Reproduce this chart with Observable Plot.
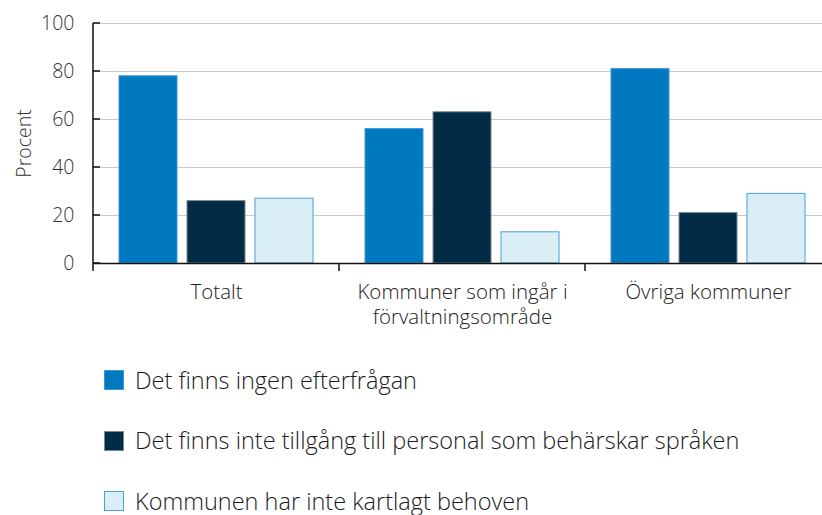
<!DOCTYPE html>
<html><head><meta charset="utf-8">
<script src="https://cdn.jsdelivr.net/npm/d3@7"></script>
<script src="https://cdn.jsdelivr.net/npm/@observablehq/plot@0.6"></script>
<style>
body{margin:0;background:#fff;font-family:"Open Sans",sans-serif;font-weight:300;}
#chart svg{overflow:visible}
.legend{margin:5px 0 0 104px;}
.legend .row{display:flex;align-items:center;height:60.5px;font-size:23.5px;color:#1a1a1a;font-weight:300;}
.legend .row span{line-height:1;}
.legend .sw{width:20px;height:20px;box-sizing:border-box;margin-right:11px;}
</style></head>
<body>
<div id="chart"></div>
<div class="legend" id="legend"></div>
<script>
const groups = ["Totalt", "Kommuner som ingår i förvaltningsområde", "Övriga kommuner"];
const groupLabels = ["Totalt", "Kommuner som ingår i\nförvaltningsområde", "Övriga kommuner"];
const series = ["Det finns ingen efterfrågan", "Det finns inte tillgång till personal som behärskar språken", "Kommunen har inte kartlagt behoven"];
const valuesIngen = [78, 56, 81];
const valuesTillgang = [26, 63, 21];
const valuesKartlagt = [27, 13, 29];
const fills = ["#0079c1", "#022c45", "#daeef6"];
const strokes = ["#3d97d3", "#7a8794", "#4a9fd6"];
const yTicks = [0, 20, 40, 60, 80, 100];

const seriesValues = [valuesIngen, valuesTillgang, valuesKartlagt];
const data = [];
series.forEach((s, si) => groups.forEach((g, gi) => data.push({group: g, series: s, value: seriesValues[si][gi]})));

const chart = Plot.plot({
  width: 822, height: 345,
  marginTop: 23, marginBottom: 82, marginLeft: 93, marginRight: -9,
  style: {fontFamily: "Open Sans, sans-serif", fontSize: "19.5px", fontWeight: 300, color: "#333"},
  y: {domain: [0, 100]},
  fx: {domain: groups, padding: 0},
  x: {domain: series, paddingInner: 0.153, paddingOuter: 0.372, axis: null},
  marks: [
    Plot.ruleY(yTicks.filter(d => d > 0), {stroke: "#c8c8c8", strokeWidth: 1.2}),
    ...series.map((s, i) => Plot.barY(data.filter(d => d.series === s), {
      fx: "group", x: "series", y: "value", fill: fills[i], stroke: strokes[i], strokeWidth: 1
    })),
    Plot.ruleY([0], {stroke: "#111", strokeWidth: 1.5}),
    Plot.axisY({ticks: yTicks, tickSize: 0, tickPadding: 19, label: "Procent", labelArrow: "none", labelAnchor: "center", labelOffset: 76, fill: "#333"}),
    Plot.axisFx({anchor: "bottom", tickSize: 0, tickPadding: 17, label: null, lineHeight: 1.25, fontSize: 20.5,
      tickFormat: d => groupLabels[groups.indexOf(d)], fill: "#222"})
  ]
});
document.getElementById("chart").appendChild(chart);

// axis line, inward ticks and group separators derived from the scales
const ys = chart.scale("y"), fxs = chart.scale("fx");
const svg = d3.select(chart);
const x0 = fxs.apply(groups[0]);
const bw = fxs.bandwidth;
const g = svg.append("g").attr("stroke", "#111").attr("stroke-width", 1.5);
g.append("line").attr("x1", x0).attr("x2", x0).attr("y1", ys.apply(100)).attr("y2", ys.apply(0) + 8);
yTicks.forEach(t => g.append("line").attr("x1", x0).attr("x2", x0 + 7).attr("y1", ys.apply(t)).attr("y2", ys.apply(t)));
groups.forEach(gr => {
  const xr = fxs.apply(gr) + bw;
  g.append("line").attr("x1", xr).attr("x2", xr).attr("y1", ys.apply(0)).attr("y2", ys.apply(0) + 8);
});

const legend = document.getElementById("legend");
series.forEach((s, i) => {
  const row = document.createElement("div"); row.className = "row";
  const sw = document.createElement("div"); sw.className = "sw";
  sw.style.background = fills[i]; sw.style.border = "1px solid " + strokes[i];
  const t = document.createElement("span"); t.textContent = s;
  row.appendChild(sw); row.appendChild(t); legend.appendChild(row);
});
</script>
</body></html>
